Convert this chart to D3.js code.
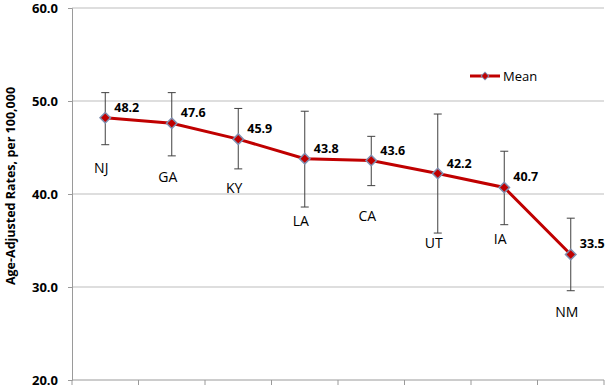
<!DOCTYPE html>
<html><head><meta charset="utf-8">
<script src="https://cdn.jsdelivr.net/npm/d3@7"></script>
<style>body{margin:0;background:#fff}svg{display:block}</style>
</head><body>
<script>
const states = ["NJ","GA","KY","LA","CA","UT","IA","NM"];
const means  = [48.2, 47.6, 45.9, 43.8, 43.6, 42.2, 40.7, 33.5];
const upper  = [50.9, 50.9, 49.2, 48.9, 46.2, 48.6, 44.6, 37.4];
const lower  = [45.3, 44.1, 42.7, 38.6, 40.9, 35.8, 36.7, 29.6];
const yTicks = [20, 30, 40, 50, 60];
// category label anchor (data units, as placed in the original chart)
const stateLabelAt = [42.8, 41.8, 40.6, 37.1, 37.6, 34.7, 35.2, 27.3];

const W = 614, H = 391;
const m = {left: 72, right: 10, top: 8, bottom: 11};
const svg = d3.select("body").append("svg").attr("width", W).attr("height", H);
const x = d3.scaleBand().domain(states).range([m.left, W - m.right]);
const y = d3.scaleLinear().domain([20, 60]).range([H - m.bottom, m.top]);
const font = "'Open Sans', 'Liberation Sans', sans-serif";

// gridlines
svg.append("g").selectAll("line").data(yTicks.filter(d => d > 20)).join("line")
  .attr("x1", m.left).attr("x2", W - m.right)
  .attr("y1", d => y(d)).attr("y2", d => y(d))
  .attr("stroke", "#bdbdbd").attr("stroke-width", 1);

// y axis
const ya = svg.append("g").attr("transform", `translate(${m.left},0)`)
  .call(d3.axisLeft(y).tickValues(yTicks).tickFormat(d3.format(".1f")).tickSize(4).tickPadding(10));
ya.select(".domain").attr("stroke", "#9a9a9a");
ya.selectAll(".tick line").attr("stroke", "#9a9a9a");
ya.selectAll("text").attr("font-family", font).attr("font-size", 13).attr("font-weight", "bold").attr("fill", "#000");

// x axis (ticks at category boundaries)
const xa = svg.append("g").attr("transform", `translate(0,${y(20)})`);
xa.append("line").attr("x1", m.left).attr("x2", W - m.right).attr("stroke", "#9a9a9a");
const bounds = states.map(s => x(s)).concat([x(states[states.length-1]) + x.bandwidth()]);
xa.selectAll("line.t").data(bounds).join("line").attr("class","t")
  .attr("x1", d => d).attr("x2", d => d).attr("y1", 0).attr("y2", 5).attr("stroke", "#9a9a9a");

// y title
svg.append("text").attr("transform", `translate(15,186) rotate(-90)`)
  .attr("text-anchor", "middle").attr("font-family", font).attr("font-size", 12.5).attr("font-weight", "bold")
  .text("Age-Adjusted Rates, per 100,000");

const cx = s => x(s) + x.bandwidth()/2;

// error bars
const eb = svg.append("g").attr("stroke", "#404040").attr("stroke-width", 1);
states.forEach((s, i) => {
  eb.append("line").attr("x1", cx(s)).attr("x2", cx(s)).attr("y1", y(upper[i])).attr("y2", y(lower[i]));
  eb.append("line").attr("x1", cx(s)-4).attr("x2", cx(s)+4).attr("y1", y(upper[i])).attr("y2", y(upper[i]));
  eb.append("line").attr("x1", cx(s)-4).attr("x2", cx(s)+4).attr("y1", y(lower[i])).attr("y2", y(lower[i]));
});

// line
svg.append("path").datum(states.map((s,i)=>[cx(s), y(means[i])]))
  .attr("d", d3.line()).attr("fill", "none").attr("stroke", "#c00000").attr("stroke-width", 3);

// markers
svg.append("g").selectAll("path").data(states).join("path")
  .attr("d", d3.symbol().type(d3.symbolSquare).size(55))
  .attr("transform", (s,i) => `translate(${cx(s)},${y(means[i])}) rotate(45)`)
  .attr("fill", "#c00000").attr("stroke", "#7f8fb0").attr("stroke-width", 1.5);

// value labels
svg.append("g").selectAll("text").data(states).join("text")
  .attr("x", s => cx(s) + 9).attr("y", (s,i) => y(means[i]) - 6)
  .attr("font-family", font).attr("font-size", 12.5).attr("font-weight", "bold")
  .text((s,i) => means[i].toFixed(1));

// category labels
svg.append("g").selectAll("text").data(states).join("text")
  .attr("x", s => cx(s) - 4).attr("y", (s,i) => y(stateLabelAt[i]) + 5)
  .attr("text-anchor", "middle").attr("font-family", font).attr("font-size", 14)
  .text(s => s);

// legend
const lg = svg.append("g").attr("transform", "translate(470,76)");
lg.append("line").attr("x1", 0).attr("x2", 30).attr("stroke", "#c00000").attr("stroke-width", 3);
lg.append("path").attr("transform", "translate(15,0) rotate(45)")
  .attr("d", d3.symbol().type(d3.symbolSquare).size(30)).attr("fill", "#c00000").attr("stroke", "#7f8fb0");
lg.append("text").attr("x", 33).attr("y", 5).attr("font-family", font).attr("font-size", 13).text("Mean");
</script>
</body></html>
